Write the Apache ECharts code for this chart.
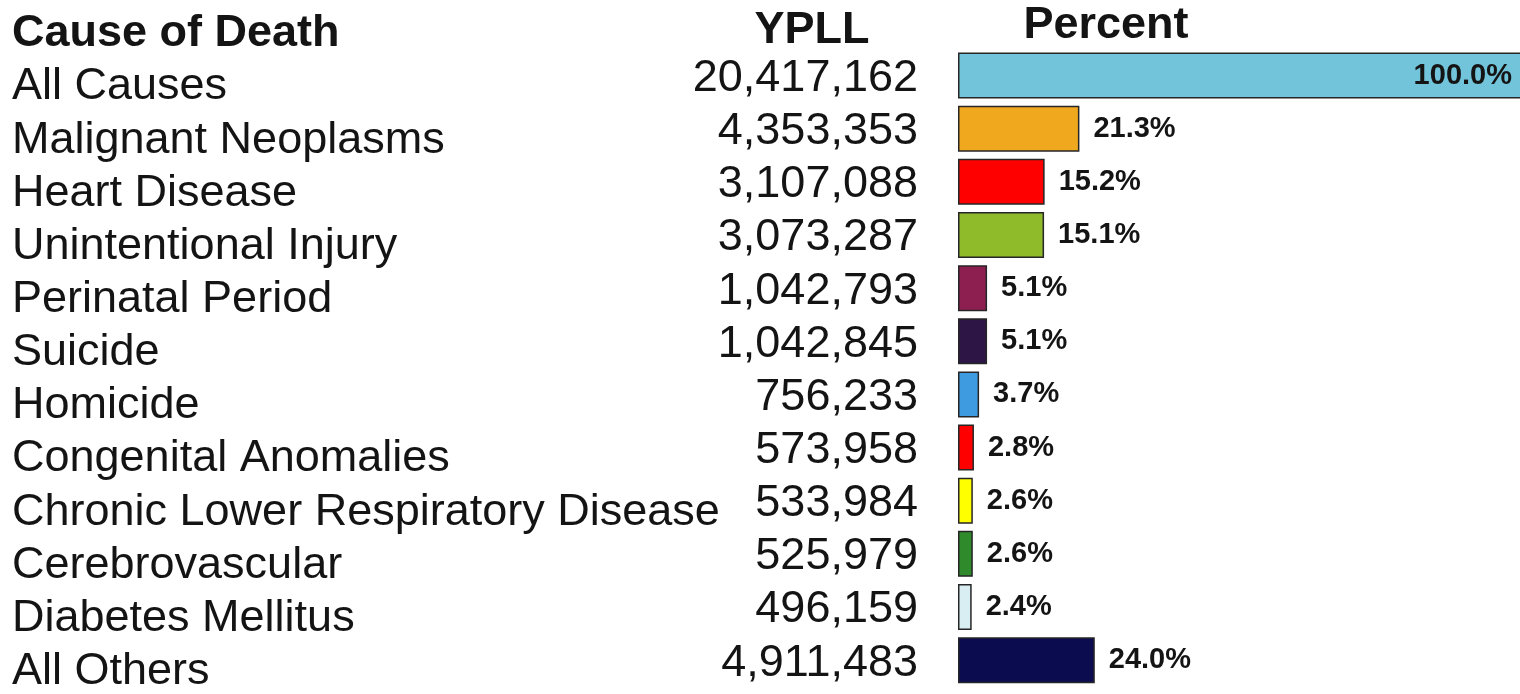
<!DOCTYPE html>
<html>
<head>
<meta charset="utf-8">
<title>Years of Potential Life Lost by Cause of Death</title>
<script src="https://cdn.jsdelivr.net/npm/echarts@6/dist/echarts.min.js"></script>
<style>
  html, body { margin: 0; padding: 0; background: #ffffff; }
  #chart { width: 1520px; height: 694px; }
</style>
</head>
<body>
<div id="chart"></div>
<script>
// Causes of death, listed top to bottom
const causes = [
  'All Causes',
  'Malignant Neoplasms',
  'Heart Disease',
  'Unintentional Injury',
  'Perinatal Period',
  'Suicide',
  'Homicide',
  'Congenital Anomalies',
  'Chronic Lower Respiratory Disease',
  'Cerebrovascular',
  'Diabetes Mellitus',
  'All Others'
];

// Years of potential life lost for each cause
const ypll = [
  20417162, 4353353, 3107088, 3073287, 1042793, 1042845,
  756233, 573958, 533984, 525979, 496159, 4911483
];

// Share of all YPLL, in percent
const percents = [100.0, 21.3, 15.2, 15.1, 5.1, 5.1, 3.7, 2.8, 2.6, 2.6, 2.4, 24.0];

// Bar fill for each cause
const barColors = [
  '#72c4da', '#f0a91e', '#ff0000', '#8fbb2a', '#8c1f50', '#2d1546',
  '#3f9be0', '#ff0000', '#ffff00', '#2f8a2c', '#d8eef3', '#0b0b50'
];

const FONT = '"Liberation Sans", Arial, Helvetica, sans-serif';
const INK = '#141414';

const chart = echarts.init(document.getElementById('chart'), null, { renderer: 'canvas' });

const barData = percents.map((v, i) => {
  const item = { value: v, itemStyle: { color: barColors[i] } };
  if (v >= 100) {
    // the full-length bar runs off the right edge; its label sits inside
    item.label = { position: 'insideRight', distance: 16 };
  }
  return item;
});

function headerText(text, x, y, align) {
  return {
    type: 'text',
    x: x,
    y: y,
    silent: true,
    style: {
      text: text,
      fill: INK,
      fontSize: 45,
      fontWeight: 'bold',
      fontFamily: FONT,
      align: align,
      verticalAlign: 'middle',
      textAlign: align,
      textVerticalAlign: 'middle'
    }
  };
}

chart.setOption({
  animation: false,
  backgroundColor: '#ffffff',
  textStyle: { fontFamily: FONT },
  graphic: [
    headerText('Cause of Death', 12, 34, 'left'),
    headerText('YPLL', 812, 31, 'center'),
    headerText('Percent', 1106, 26, 'center')
  ],
  grid: {
    left: 958,
    top: 49,
    right: 0,
    height: 641,
    containLabel: false
  },
  xAxis: {
    type: 'value',
    min: 0,
    max: 98.6,
    show: false
  },
  yAxis: [
    {
      // cause names, left-aligned at the page margin
      type: 'category',
      data: causes,
      inverse: true,
      position: 'left',
      axisLine: { show: false },
      axisTick: { show: false },
      splitLine: { show: false },
      axisLabel: {
        interval: 0,
        align: 'left',
        margin: 946,
        fontSize: 45,
        color: INK,
        fontFamily: FONT,
        verticalAlign: 'top',
        lineHeight: 23
      }
    },
    {
      // YPLL column, right-aligned just before the bars
      type: 'category',
      data: ypll.map(v => v.toLocaleString('en-US')),
      inverse: true,
      position: 'left',
      axisLine: { show: false },
      axisTick: { show: false },
      splitLine: { show: false },
      axisLabel: {
        interval: 0,
        align: 'right',
        margin: 40,
        fontSize: 45,
        color: INK,
        fontFamily: FONT,
        verticalAlign: 'top',
        lineHeight: 6
      }
    }
  ],
  series: [
    {
      type: 'bar',
      yAxisIndex: 0,
      data: barData,
      barWidth: 46,
      clip: false,
      itemStyle: {
        borderColor: '#262626',
        borderWidth: 1.5
      },
      label: {
        show: true,
        position: 'right',
        distance: 14,
        fontSize: 29,
        fontWeight: 'bold',
        color: INK,
        fontFamily: FONT,
        formatter: p => p.value.toFixed(1) + '%'
      }
    }
  ]
});
</script>
</body>
</html>
